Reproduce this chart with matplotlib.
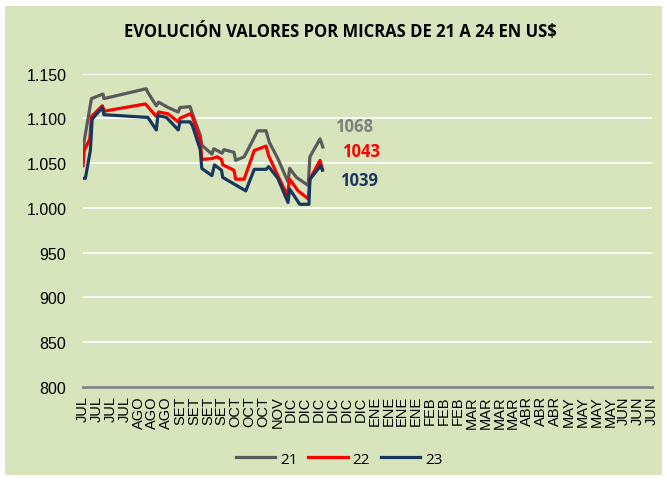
import matplotlib.pyplot as plt
from matplotlib.patches import Rectangle
from matplotlib.ticker import FuncFormatter

# ------------------------- Datos -------------------------

meses = (['JUL'] * 4 + ['AGO'] * 3 + ['SET'] * 4 + ['OCT'] * 3 + ['NOV'] +
         ['DIC'] * 6 + ['ENE'] * 4 + ['FEB'] * 3 + ['MAR'] * 4 + ['ABR'] * 3 +
         ['MAY'] * 4 + ['JUN'] * 3)

x_21 = [0.00, 0.09, 0.61, 1.26, 1.44, 1.51, 4.55, 4.67, 5.28, 5.45, 6.13, 6.86,
        6.99, 7.72, 7.88, 8.45, 8.56, 9.29, 9.42, 10.02, 10.15, 10.88, 11.00,
        11.61, 12.09, 12.58, 13.19, 13.43, 14.04, 14.77, 14.89, 15.38, 16.23,
        16.35, 17.08, 17.28]
v_21 = [1064, 1075, 1122, 1126, 1127, 1122, 1133, 1129, 1114, 1118, 1112, 1107,
        1112, 1113, 1105, 1081, 1070, 1060, 1066, 1061, 1065, 1062, 1053,
        1057, 1071, 1086, 1086, 1073, 1055, 1029, 1044, 1034, 1025,
        1057, 1077, 1068]

x_22 = [0.00, 0.09, 0.49, 0.61, 1.39, 1.55, 4.50, 5.28, 5.45, 6.13, 6.86, 6.99,
        7.72, 7.88, 8.45, 8.56, 9.29, 9.66, 9.98, 10.07, 10.88, 11.00, 11.61,
        12.34, 13.19, 13.38, 14.04, 14.72, 14.89, 15.50, 16.23, 16.35, 17.08,
        17.25]
v_22 = [1047, 1064, 1077, 1102, 1114, 1108, 1116, 1102, 1107, 1105, 1096, 1100,
        1105, 1102, 1075, 1054, 1055, 1057, 1054, 1048, 1042, 1032, 1032,
        1064, 1069, 1058, 1036, 1014, 1032, 1019, 1010, 1032, 1053,
        1043]

x_23 = [0.00, 0.17, 0.53, 0.66, 1.39, 1.51, 4.67, 5.28, 5.40, 6.01, 6.86, 6.99,
        7.72, 7.88, 8.45, 8.56, 9.29, 9.47, 9.98, 10.07, 11.73, 12.34, 13.19,
        13.38, 14.04, 14.77, 14.89, 15.62, 16.28, 16.35, 17.13, 17.25]
v_23 = [1033, 1033, 1064, 1099, 1112, 1104, 1101, 1087, 1103, 1101, 1087, 1096,
        1096, 1092, 1065, 1044, 1036, 1048, 1042, 1034, 1019, 1043, 1043,
        1046, 1033, 1006, 1021, 1004, 1004, 1032, 1047, 1042]

ultimos = {'21': 1068, '22': 1043, '23': 1039}

# ------------------------- Gráfico -------------------------

verde = '#D8E4BC'
colores = {'21': '#5A5A5A', '22': '#FF0000', '23': '#17375E'}
colores_txt = {'21': '#808080', '22': '#FF0000', '23': '#17375E'}

fig = plt.figure(figsize=(6.67, 4.81), dpi=100, facecolor='white')
fig.patches.append(Rectangle((5 / 667, 5 / 481), 657 / 667, 469 / 481,
                             transform=fig.transFigure, facecolor=verde,
                             edgecolor='none', zorder=-10))

ax = fig.add_axes([83 / 667, 93 / 481, 569 / 667, 313.5 / 481])
ax.set_facecolor(verde)

ax.plot(x_21, v_21, color=colores['21'], lw=2.3, label='21')
ax.plot(x_22, v_22, color=colores['22'], lw=2.3, label='22')
ax.plot(x_23, v_23, color=colores['23'], lw=2.3, label='23')

ax.set_xlim(0, len(meses) - 1)
ax.set_ylim(800, 1150)
ax.set_yticks(range(800, 1151, 50))
ax.yaxis.set_major_formatter(FuncFormatter(lambda v, p: f'{int(v):,}'.replace(',', '.')))
ax.grid(axis='y', color='white', lw=1.2)
ax.set_axisbelow(True)

ax.set_xticks(range(len(meses)))
ax.set_xticklabels(meses, rotation=90, fontsize=10.5, family='Liberation Sans',
                   va='top')
ax.tick_params(axis='x', length=0, pad=6)
ax.tick_params(axis='y', length=0, pad=12, labelsize=11.5)
for lbl in ax.get_yticklabels():
    lbl.set_family('Liberation Sans')

for s in ['top', 'right', 'left']:
    ax.spines[s].set_visible(False)
ax.spines['bottom'].set_color('#868686')
ax.spines['bottom'].set_linewidth(2)

pos_txt = {'21': (19.55, 1091), '22': (20.0, 1064), '23': (19.9, 1031)}
for k, (xx, yy) in pos_txt.items():
    ax.text(xx, yy, str(ultimos[k]), color=colores_txt[k], fontsize=12,
            fontweight='bold', ha='center', va='center', family='Open Sans')

fig.text(340 / 667, 1 - 32 / 481, 'EVOLUCIÓN VALORES POR MICRAS DE 21 A 24 EN US$',
         ha='center', va='center', fontsize=12, fontweight='bold',
         family='Open Sans')

leg = fig.legend(loc='center', bbox_to_anchor=(339 / 667, 1 - 460 / 481), ncol=3,
                 frameon=False, handlelength=2.6, columnspacing=0.7,
                 handletextpad=0.3, prop={'family': 'Open Sans', 'size': 11})

plt.savefig('out.png', dpi=100, facecolor=fig.get_facecolor())
